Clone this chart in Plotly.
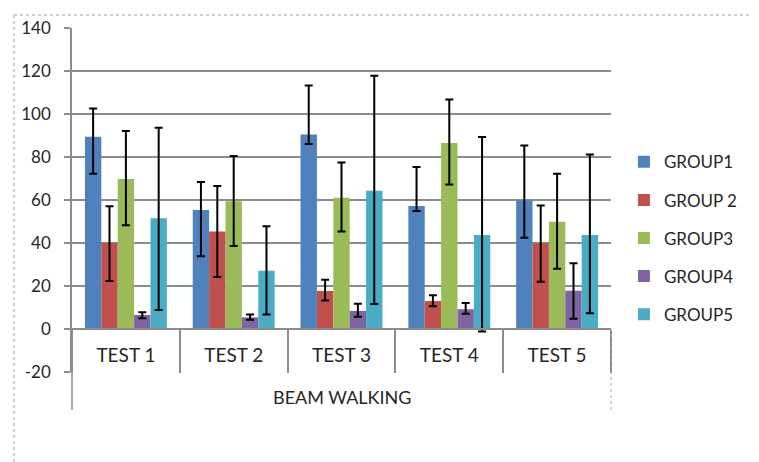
import plotly.graph_objects as go

categories = ["TEST 1", "TEST 2", "TEST 3", "TEST 4", "TEST 5"]
outer_label = "BEAM WALKING"
series_names = ["GROUP1", "GROUP 2", "GROUP3", "GROUP4", "GROUP5"]

group1 = [89.4, 55.3, 90.5, 57.2, 59.8]
group2 = [40.1, 45.3, 17.7, 13.0, 39.9]
group3 = [69.8, 59.4, 61.1, 86.5, 49.9]
group4 = [6.5, 5.4, 8.4, 9.2, 17.8]
group5 = [51.5, 27.1, 64.3, 43.7, 43.7]

group1_err_plus = [13.2, 13.1, 22.8, 18.1, 25.5]
group1_err_minus = [17.2, 21.5, 4.5, 2.3, 17.3]
group2_err_plus = [17.0, 21.2, 5.2, 2.7, 17.6]
group2_err_minus = [17.8, 21.1, 4.5, 2.4, 17.9]
group3_err_plus = [22.3, 21.1, 16.4, 20.2, 22.3]
group3_err_minus = [21.6, 20.8, 15.8, 19.3, 21.9]
group4_err_plus = [1.3, 1.3, 3.4, 2.9, 12.8]
group4_err_minus = [1.5, 1.1, 2.7, 2.1, 13.0]
group5_err_plus = [42.1, 20.7, 53.5, 45.6, 37.5]
group5_err_minus = [42.7, 20.3, 52.7, 44.9, 36.4]

y_ticks = [-20, 0, 20, 40, 60, 80, 100, 120, 140]
y_tick_labels = ["-20", "0", "20", "40", "60", "80", "100", "120", "140"]

colors = ["#4F81BD", "#C0504D", "#9BBB59", "#8064A2", "#4BACC6"]
values = [group1, group2, group3, group4, group5]
err_plus = [group1_err_plus, group2_err_plus, group3_err_plus, group4_err_plus, group5_err_plus]
err_minus = [group1_err_minus, group2_err_minus, group3_err_minus, group4_err_minus, group5_err_minus]

FONT = "Lato, 'Open Sans', sans-serif"
TXT = "#262626"
GRID = "#8c8c8c"

fig = go.Figure()
for name, vals, ep, em, col in zip(series_names, values, err_plus, err_minus, colors):
    fig.add_trace(go.Bar(
        x=categories, y=vals, name=name, legendgroup=name,
        marker=dict(color=col, line=dict(width=0)),
        error_y=dict(type="data", symmetric=False, array=ep, arrayminus=em,
                     color="black", thickness=2, width=4),
    ))

y_min, y_max = -20, 140
zero_pos = (0 - y_min) / (y_max - y_min)

# the page body adds an 8px offset, so the figure is 8px smaller and margins shifted
FIG_W, FIG_H = 751, 454
M_L, M_R, M_T, M_B = 64, 148, 20, 90
plot_w = FIG_W - M_L - M_R
plot_h = FIG_H - M_T - M_B

fig.update_layout(
    width=FIG_W, height=FIG_H,
    margin=dict(l=M_L, r=M_R, t=M_T, b=M_B, autoexpand=False),
    paper_bgcolor="white", plot_bgcolor="white",
    barmode="group", bargap=0.24, bargroupgap=0,
    font=dict(family=FONT, color=TXT),
    showlegend=True,
    legend=dict(
        x=1.024, xanchor="left", y=0.662, yanchor="top",
        font=dict(family=FONT, size=17, color=TXT),
        traceorder="grouped", tracegroupgap=13,
        bgcolor="rgba(0,0,0,0)",
    ),
    xaxis=dict(
        type="category", automargin=False,
        anchor="free", position=zero_pos,
        showline=True, linecolor=GRID, linewidth=1.5,
        ticks="outside", tickson="boundaries", ticklen=43, tickcolor=GRID, tickwidth=1.5,
        showgrid=False,
        tickfont=dict(family=FONT, size=19, color=TXT),
        ticklabelstandoff=9,
    ),
    yaxis=dict(
        range=[y_min, y_max], tickvals=y_ticks, ticktext=y_tick_labels,
        automargin=False,
        showgrid=True, gridcolor=GRID, gridwidth=1.5,
        showline=True, linecolor=GRID, linewidth=1.5,
        ticks="outside", ticklen=6, tickcolor=GRID, tickwidth=1.5,
        zeroline=False,
        tickfont=dict(family=FONT, size=17, color=TXT),
        ticklabelstandoff=10,
    ),
)

fig.add_annotation(
    text=outer_label, xref="paper", yref="paper",
    x=0.5, y=-25 / plot_h, xanchor="center", yanchor="middle",
    showarrow=False, font=dict(family=FONT, size=18, color=TXT),
)
# extension of value axis line through the label rows
fig.add_shape(type="line", xref="paper", yref="paper",
              x0=0, x1=0, y0=0, y1=-38 / plot_h,
              line=dict(color=GRID, width=1.5))
fig.add_shape(type="line", xref="paper", yref="paper",
              x0=1, x1=1, y0=zero_pos, y1=-38 / plot_h,
              line=dict(color="#a6a6a6", width=1, dash="dot"))
# dotted chart-area border: top and left edges only visible
fig.add_shape(type="line", xref="paper", yref="paper",
              x0=(14 - 72) / plot_w, x1=(900 - 72) / plot_w,
              y0=(372 - 15) / plot_h, y1=(372 - 15) / plot_h,
              line=dict(color="#a0a0a0", width=1, dash="dot"))
fig.add_shape(type="line", xref="paper", yref="paper",
              x0=(14 - 72) / plot_w, x1=(14 - 72) / plot_w,
              y0=(372 - 600) / plot_h, y1=(372 - 15) / plot_h,
              line=dict(color="#a0a0a0", width=1, dash="dot"))

fig.write_html("out.html")
